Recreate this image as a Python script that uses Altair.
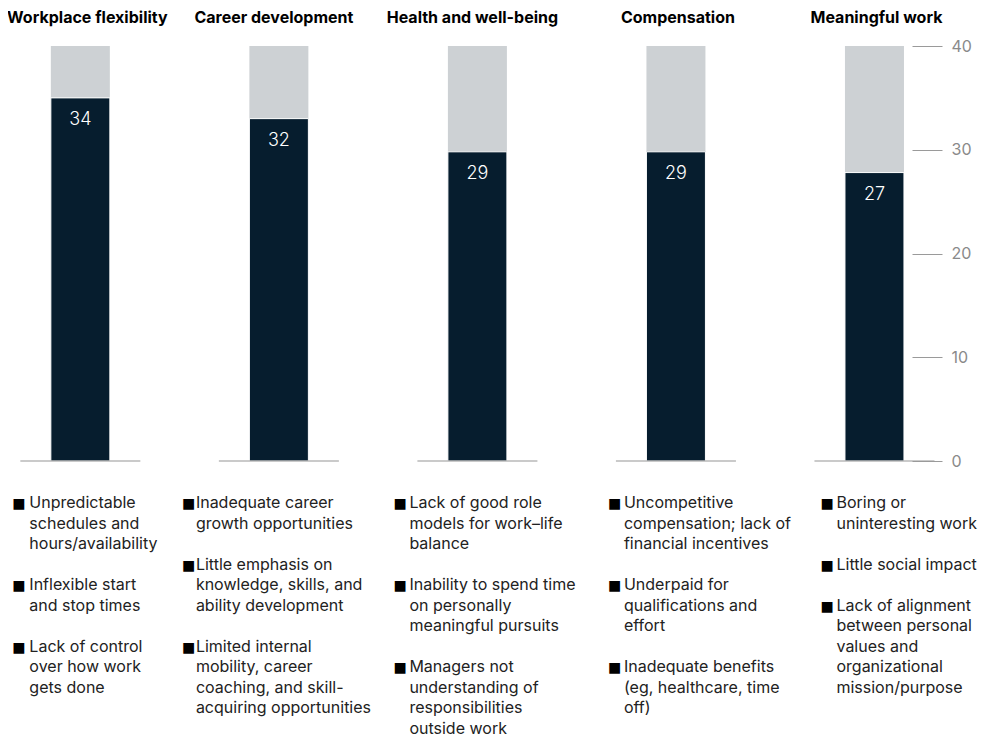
import altair as alt
import pandas as pd

# ---- data ----
categories = ["Workplace flexibility", "Career development", "Health and well-being",
              "Compensation", "Meaningful work"]
value_labels = [34, 32, 29, 29, 27]          # printed values
bar_heights = [35.0, 33.0, 29.8, 29.8, 27.8]  # drawn bar heights as measured on the axis
scale_max = 40
y_ticks = [0, 10, 20, 30, 40]

reasons = [
    ["Unpredictable\nschedules and\nhours/availability",
     "Inflexible start\nand stop times",
     "Lack of control\nover how work\ngets done"],
    ["Inadequate career\ngrowth opportunities",
     "Little emphasis on\nknowledge, skills, and\nability development",
     "Limited internal\nmobility, career\ncoaching, and skill-\nacquiring opportunities"],
    ["Lack of good role\nmodels for work\u2013life\nbalance",
     "Inability to spend time\non personally\nmeaningful pursuits",
     "Managers not\nunderstanding of\nresponsibilities\noutside work"],
    ["Uncompetitive\ncompensation; lack of\nfinancial incentives",
     "Underpaid for\nqualifications and\neffort",
     "Inadequate benefits\n(eg, healthcare, time\noff)"],
    ["Boring or\nuninteresting work",
     "Little social impact",
     "Lack of alignment\nbetween personal\nvalues and\norganizational\nmission/purpose"],
]

# ---- styles ----
DARK = "#061d2e"
GRAY = "#cdd1d4"
RULE = "#9a9a9a"
TEXT = "#222222"
FONT = "Inter"
BULLET_DX = [-68, -97, -84, -68, -54]
TEXT_DX = [-51, -83, -68, -52, -38]
TITLE_DX = [7, -5, -5, 2, 2]
LINE_H = 20.5
TEXT_TOP = 47

df = pd.DataFrame({
    "cat": categories,
    "idx": list(range(len(categories))),
    "label": value_labels,
    "height": bar_heights,
})

rows = []
for i, items in enumerate(reasons):
    lines_before = 0
    for j, it in enumerate(items):
        rows.append({"idx": i, "item": j, "text": it, "lines_before": lines_before + j})
        lines_before += len(it.split("\n"))
items_df = pd.DataFrame(rows)

step = 200.75
d0 = -68.1 / step
d1 = d0 + 904 / step
xs = alt.X("idx:Q", scale=alt.Scale(domain=[d0, d1], nice=False, zero=False), axis=None)
yscale = alt.Scale(domain=[0, scale_max], nice=False)
y0 = alt.Y(datum=0, type="quantitative", scale=yscale)

base = alt.Chart(df)

bg = base.mark_bar(size=59, color=GRAY).encode(
    x=xs,
    y=alt.Y(datum=scale_max, type="quantitative", scale=yscale,
            axis=alt.Axis(orient="right", values=y_ticks, title=None, domain=False, grid=False,
                          tickSize=30, tickColor=RULE, tickWidth=1, labelColor="#8a8a8a",
                          labelFontSize=16, labelFont=FONT, labelPadding=9)),
)

fg = base.mark_bar(size=59, color=DARK, stroke="white", strokeWidth=1).encode(
    x=xs,
    y=alt.Y("height:Q", scale=yscale),
)

baseline = base.mark_tick(orient="horizontal", size=120, thickness=1.5, color=RULE).encode(
    x=xs, y=y0,
)

vals = base.mark_text(color="white", fontSize=18, font=FONT, fontWeight=300,
                      baseline="middle", dy=22).encode(
    x=xs,
    y=alt.Y("height:Q", scale=yscale),
    text=alt.Text("label:Q"),
)

layers = [bg, fg, baseline, vals]

for i in range(len(categories)):
    layers.append(base.transform_filter(alt.datum.idx == i).mark_text(
        color="#000000", fontSize=16, font=FONT, fontWeight="bold",
        baseline="middle", dx=TITLE_DX[i], dy=-28).encode(
        x=xs, y=alt.Y(datum=scale_max, type="quantitative", scale=yscale), text="cat:N"))

ibase = alt.Chart(items_df)
for r in rows:
    i, j = r["idx"], r["item"]
    dy = TEXT_TOP + LINE_H * r["lines_before"]
    sub = ibase.transform_filter((alt.datum.idx == i) & (alt.datum.item == j))
    layers.append(sub.mark_text(color="#000000", fontSize=14, font="DejaVu Sans",
                                align="left", baseline="alphabetic",
                                dx=BULLET_DX[i], dy=dy, text="\u25a0").encode(
        x=xs, y=y0))
    layers.append(sub.mark_text(color=TEXT, fontSize=16, font=FONT,
                                align="left", baseline="alphabetic", lineBreak="\n",
                                lineHeight=LINE_H, dx=TEXT_DX[i], dy=dy).encode(
        x=xs, y=y0, text="text:N"))

chart = alt.layer(*layers).properties(
    width=904, height=415,
    autosize=alt.AutoSizeParams(type="none"),
    padding={"left": 0, "top": 38, "right": 76, "bottom": 279},
).configure_view(stroke="transparent")

chart.save("out.html", embed_options={"renderer": "svg", "actions": False})
